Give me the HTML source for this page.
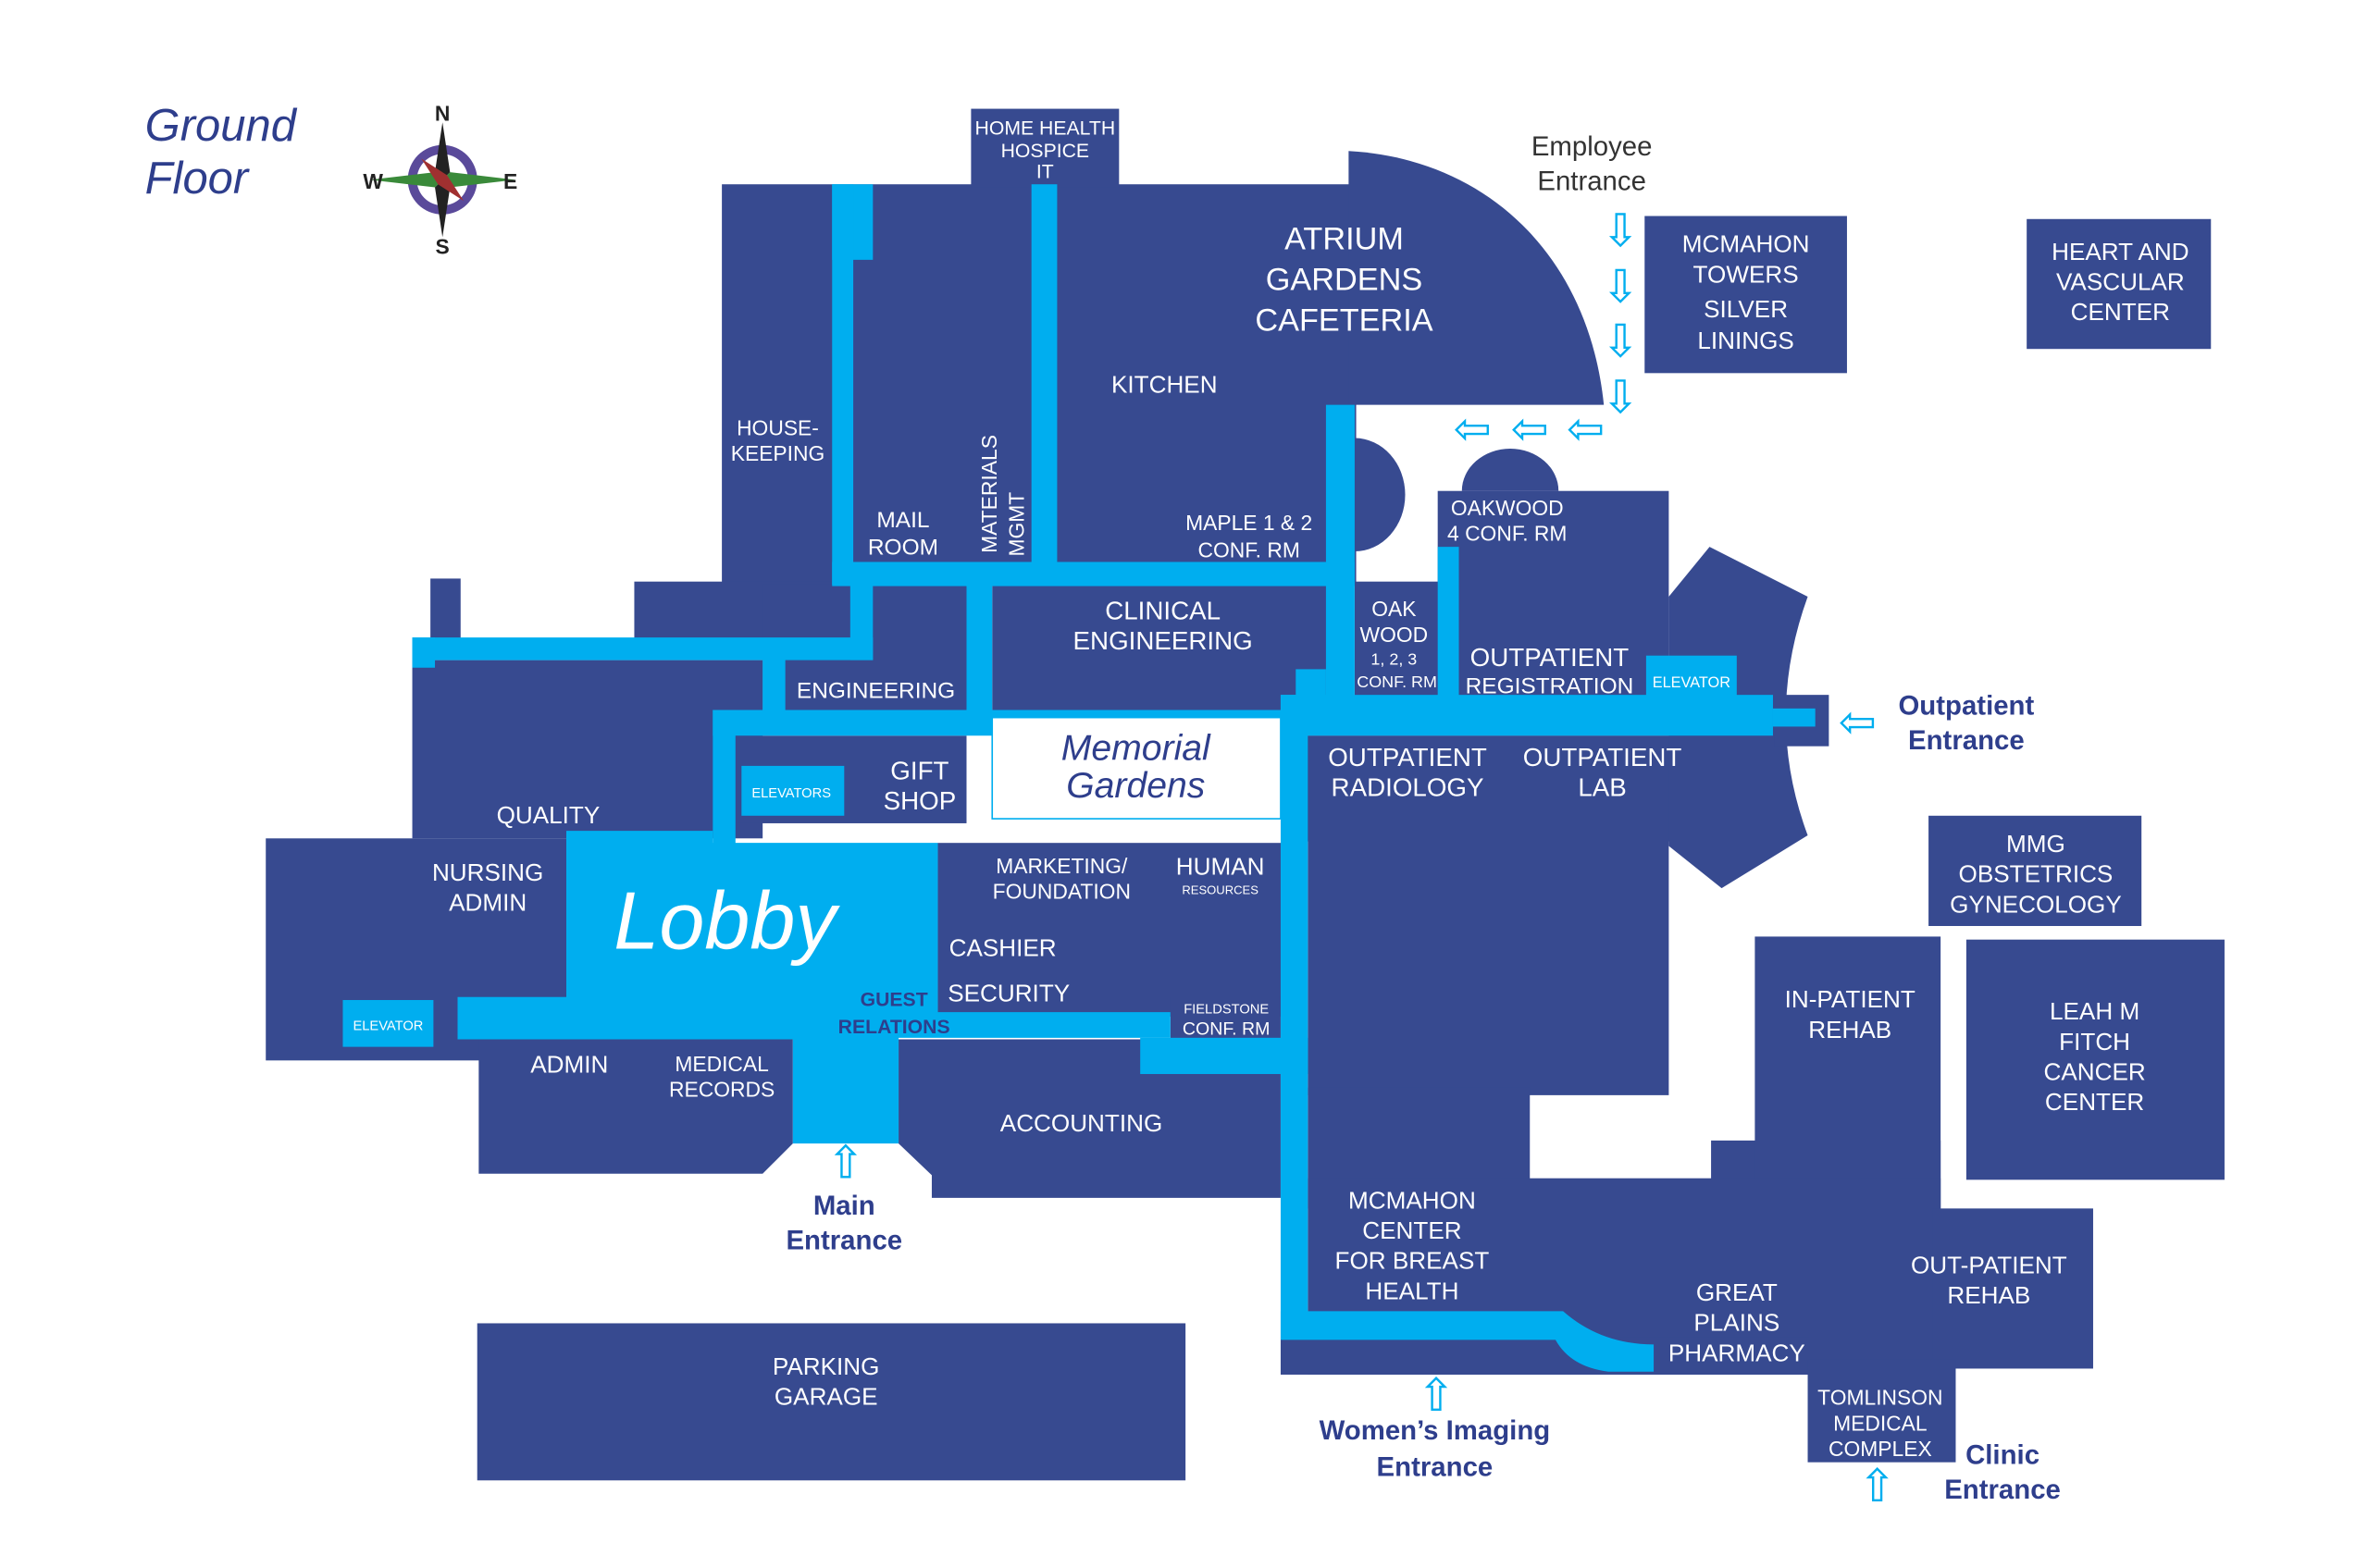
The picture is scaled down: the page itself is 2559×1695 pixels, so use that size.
<!DOCTYPE html>
<html><head><meta charset="utf-8"><style>
html,body{margin:0;padding:0;background:#fff;width:2559px;height:1695px;overflow:hidden;}
svg{display:block;}
text{font-family:"Liberation Sans",sans-serif;}
.w{fill:#fff;font-size:16px;text-anchor:middle;}
.s{fill:#fff;font-size:13px;text-anchor:middle;}
.c{fill:#00aeef;font-size:30px;text-anchor:middle;}
.l{fill:#2e3e8c;font-size:18px;font-weight:bold;text-anchor:middle;}
</style></head><body>
<svg width="2559" height="1695" viewBox="0 0 1568 1038" preserveAspectRatio="none" xmlns="http://www.w3.org/2000/svg">
<rect width="1568" height="1038" fill="#fff"/>
<g fill="#374a90">
<rect x="478" y="122" width="420" height="265"/>
<rect x="643" y="72" width="98" height="52"/>
<path d="M893,100 C985,105 1052,170 1062,268 L893,268 Z"/>
<rect x="420" y="385" width="145" height="40"/>
<rect x="285" y="383" width="20" height="42"/>
<rect x="273" y="437" width="232" height="118"/>
<rect x="505" y="387" width="140" height="85"/>
<rect x="657" y="387" width="225" height="90"/>
<rect x="487" y="487" width="153" height="58"/>
<rect x="176" y="555" width="200" height="147"/>
<rect x="621" y="558" width="228" height="115"/>
<rect x="775" y="660" width="73" height="30"/>
<path d="M317,688 L525,688 L525,757 L505,777 L317,777 Z"/>
<path d="M595,688 L848,688 L848,793 L617,793 L617,778 L595,757 Z"/>
<path d="M897,290 A33,37 0 0 1 897,365 Z"/>
<path d="M968,325 A32,28 0 0 1 1032,325 Z"/>
<rect x="897" y="385" width="58" height="78"/>
<rect x="952" y="325" width="153" height="138"/>
<path d="M1105,395 L1132,362 L1197,395 Q1168,475 1197,553 L1140,588 L1105,560 Z"/>
<rect x="1175" y="460" width="36" height="34"/>
<rect x="858" y="487" width="317" height="70"/>
<rect x="866" y="487" width="239" height="238"/>
<rect x="866" y="720" width="147" height="80"/>
<rect x="1133" y="755" width="152" height="50"/>
<rect x="1162" y="620" width="123" height="180"/>
<rect x="866" y="780" width="419" height="130"/>
<rect x="1280" y="800" width="106" height="106"/>
<rect x="848" y="885" width="350" height="25"/>
<rect x="1197" y="900" width="98" height="68"/>
<rect x="316" y="876" width="469" height="104"/>
<rect x="1089" y="143" width="134" height="104"/>
<rect x="1342" y="145" width="122" height="86"/>
<rect x="1277" y="540" width="141" height="73"/>
<rect x="1302" y="622" width="171" height="159"/>
</g>
<g fill="#00aeef">
<rect x="551" y="122" width="27" height="50"/>
<rect x="551" y="122" width="14" height="265"/>
<rect x="683" y="122" width="17" height="252"/>
<rect x="878" y="268" width="19" height="195"/>
<rect x="551" y="372" width="346" height="16"/>
<rect x="563" y="385" width="15" height="52"/>
<rect x="640" y="385" width="17" height="92"/>
<rect x="273" y="422" width="305" height="15"/>
<rect x="273" y="422" width="15" height="20"/>
<rect x="505" y="432" width="15" height="40"/>
<rect x="472" y="470" width="388" height="17"/>
<rect x="472" y="470" width="15" height="90"/>
<rect x="858" y="443" width="20" height="20"/>
<rect x="952" y="362" width="14" height="100"/>
<rect x="848" y="460" width="326" height="27"/>
<rect x="1174" y="469" width="28" height="12"/>
<rect x="1090" y="434" width="60" height="28"/>
<rect x="848" y="460" width="18" height="425"/>
<path d="M848,868 L1035,868 Q1060,890 1095,890 L1095,908 L1065,908 Q1040,905 1030,887 L848,887 Z"/>
<path d="M375,550 L472,550 L472,558 L621,558 L621,670 L775,670 L775,687 L595,687 L595,757 L525,757 L525,688 L303,688 L303,660 L375,660 Z"/>
<rect x="755" y="687" width="111" height="24"/>
</g>
<rect x="657" y="475" width="191" height="67" fill="#fff" stroke="#00aeef" stroke-width="1"/>
<rect x="491" y="507" width="68" height="33" fill="#00aeef"/>
<rect x="227" y="662" width="60" height="31" fill="#00aeef"/>
<g transform="translate(293,119)">
<circle r="23" fill="#5a4a9a"/><circle r="17" fill="#fff"/>
<path d="M0,-38 L5,-5 L0,0 L-5,-5Z" fill="#222"/>
<path d="M0,38 L5,5 L0,0 L-5,5Z" fill="#222"/>
<path d="M-48,0 L-5,-5 L0,0 L-5,5Z" fill="#3a8a3a"/>
<path d="M48,0 L5,-5 L0,0 L5,5Z" fill="#3a8a3a"/>
<path d="M-14,-14 L3,-3 L14,14 L-3,3Z" fill="#a03030"/>
<text x="0" y="-39" font-size="14" font-weight="bold" text-anchor="middle" fill="#222">N</text>
<text x="0" y="49" font-size="14" font-weight="bold" text-anchor="middle" fill="#222">S</text>
<text x="-46" y="6" font-size="14" font-weight="bold" text-anchor="middle" fill="#222">W</text>
<text x="45" y="6" font-size="14" font-weight="bold" text-anchor="middle" fill="#222">E</text>
</g>
<text x="96" y="93" font-size="30" font-style="italic" fill="#2e3e8c">Ground</text>
<text x="96" y="128" font-size="30" font-style="italic" fill="#2e3e8c">Floor</text>
<g class="w">
<text class="s" x="692" y="89" font-size="12">HOME HEALTH</text>
<text class="s" x="692" y="104" font-size="12">HOSPICE</text>
<text class="s" x="692" y="118" font-size="12">IT</text>
<text x="890" y="165" font-size="21">ATRIUM</text>
<text x="890" y="192" font-size="21">GARDENS</text>
<text x="890" y="219" font-size="21">CAFETERIA</text>
<text x="771" y="260">KITCHEN</text>
<text x="515" y="288" font-size="14">HOUSE-</text>
<text x="515" y="305" font-size="14">KEEPING</text>
<text x="598" y="349" font-size="15">MAIL</text>
<text x="598" y="367" font-size="15">ROOM</text>
<text transform="translate(660,327) rotate(-90)" font-size="14">MATERIALS</text>
<text transform="translate(678,347) rotate(-90)" font-size="14">MGMT</text>
<text x="827" y="351" font-size="14">MAPLE 1 &amp; 2</text>
<text x="827" y="369" font-size="14">CONF. RM</text>
<text x="770" y="410" font-size="17">CLINICAL</text>
<text x="770" y="430" font-size="17">ENGINEERING</text>
<text x="580" y="462" font-size="15">ENGINEERING</text>
<text x="923" y="408" font-size="14">OAK</text>
<text x="923" y="425" font-size="14">WOOD</text>
<text x="923" y="440" font-size="11">1, 2, 3</text>
<text x="925" y="455" font-size="11">CONF. RM</text>
<text x="998" y="341" font-size="14">OAKWOOD</text>
<text x="998" y="358" font-size="14">4 CONF. RM</text>
<text x="1026" y="441" font-size="17">OUTPATIENT</text>
<text x="1026" y="459" font-size="15">REGISTRATION</text>
<text x="1120" y="455" font-size="10">ELEVATOR</text>
<text x="932" y="507" font-size="17">OUTPATIENT</text>
<text x="932" y="527" font-size="17">RADIOLOGY</text>
<text x="1061" y="507" font-size="17">OUTPATIENT</text>
<text x="1061" y="527" font-size="17">LAB</text>
<text x="524" y="528" font-size="9">ELEVATORS</text>
<text x="609" y="516" font-size="17">GIFT</text>
<text x="609" y="536" font-size="17">SHOP</text>
<text x="363" y="545" font-size="16">QUALITY</text>
<text x="323" y="583" font-size="16">NURSING</text>
<text x="323" y="603" font-size="16">ADMIN</text>
<text x="257" y="682" font-size="9">ELEVATOR</text>
<text x="703" y="578" font-size="14">MARKETING/</text>
<text x="703" y="595" font-size="14">FOUNDATION</text>
<text x="808" y="579" font-size="16">HUMAN</text>
<text x="808" y="592" font-size="8">RESOURCES</text>
<text x="664" y="633" font-size="16">CASHIER</text>
<text x="668" y="663" font-size="16">SECURITY</text>
<text x="812" y="671" font-size="9">FIELDSTONE</text>
<text x="812" y="685" font-size="12">CONF. RM</text>
<text x="377" y="710" font-size="16">ADMIN</text>
<text x="478" y="709" font-size="14">MEDICAL</text>
<text x="478" y="726" font-size="14">RECORDS</text>
<text x="716" y="749" font-size="16">ACCOUNTING</text>
<text x="1225" y="667" font-size="16">IN-PATIENT</text>
<text x="1225" y="687" font-size="16">REHAB</text>
<text x="935" y="800" font-size="16">MCMAHON</text>
<text x="935" y="820" font-size="16">CENTER</text>
<text x="935" y="840" font-size="16">FOR BREAST</text>
<text x="935" y="860" font-size="16">HEALTH</text>
<text x="1150" y="861" font-size="16">GREAT</text>
<text x="1150" y="881" font-size="16">PLAINS</text>
<text x="1150" y="901" font-size="16">PHARMACY</text>
<text x="1317" y="843" font-size="16">OUT-PATIENT</text>
<text x="1317" y="863" font-size="16">REHAB</text>
<text x="1245" y="930" font-size="14">TOMLINSON</text>
<text x="1245" y="947" font-size="14">MEDICAL</text>
<text x="1245" y="964" font-size="14">COMPLEX</text>
<text x="547" y="910" font-size="16">PARKING</text>
<text x="547" y="930" font-size="16">GARAGE</text>
<text x="1156" y="167" font-size="16">MCMAHON</text>
<text x="1156" y="187" font-size="16">TOWERS</text>
<text x="1156" y="210" font-size="16">SILVER</text>
<text x="1156" y="231" font-size="16">LININGS</text>
<text x="1404" y="172" font-size="16">HEART AND</text>
<text x="1404" y="192" font-size="16">VASCULAR</text>
<text x="1404" y="212" font-size="16">CENTER</text>
<text x="1348" y="564" font-size="16">MMG</text>
<text x="1348" y="584" font-size="16">OBSTETRICS</text>
<text x="1348" y="604" font-size="16">GYNECOLOGY</text>
<text x="1387" y="675" font-size="16">LEAH M</text>
<text x="1387" y="695" font-size="16">FITCH</text>
<text x="1387" y="715" font-size="16">CANCER</text>
<text x="1387" y="735" font-size="16">CENTER</text>
</g>
<text x="480" y="628" font-family="'Liberation Serif',serif" font-style="italic" font-size="54" fill="#fff" text-anchor="middle">Lobby</text>
<text x="752" y="503" font-family="'Liberation Serif',serif" font-style="italic" font-size="24" fill="#2e3e8c" text-anchor="middle">Memorial</text>
<text x="752" y="528" font-family="'Liberation Serif',serif" font-style="italic" font-size="24" fill="#2e3e8c" text-anchor="middle">Gardens</text>
<text x="592" y="666" font-size="13" font-weight="bold" fill="#2e3e8c" text-anchor="middle">GUEST</text>
<text x="592" y="684" font-size="13" font-weight="bold" fill="#2e3e8c" text-anchor="middle">RELATIONS</text>
<text x="1054" y="103" font-size="18" fill="#333" text-anchor="middle">Employee</text>
<text x="1054" y="126" font-size="18" fill="#333" text-anchor="middle">Entrance</text>
<text class="l" x="1302" y="473">Outpatient</text>
<text class="l" x="1302" y="496">Entrance</text>
<text class="l" x="559" y="804">Main</text>
<text class="l" x="559" y="827">Entrance</text>
<text class="l" x="950" y="953">Women’s Imaging</text>
<text class="l" x="950" y="977">Entrance</text>
<text class="l" x="1326" y="969">Clinic</text>
<text class="l" x="1326" y="992">Entrance</text>
<g class="c">
<text x="1073" y="163">⇩</text>
<text x="1073" y="200">⇩</text>
<text x="1073" y="236">⇩</text>
<text x="1073" y="273">⇩</text>
<text x="975" y="294">⇦</text>
<text x="1013" y="294">⇦</text>
<text x="1050" y="294">⇦</text>
<text x="1230" y="488">⇦</text>
<text x="560" y="780">⇧</text>
<text x="951" y="934">⇧</text>
<text x="1243" y="994">⇧</text>
</g>
</svg>
</body></html>
